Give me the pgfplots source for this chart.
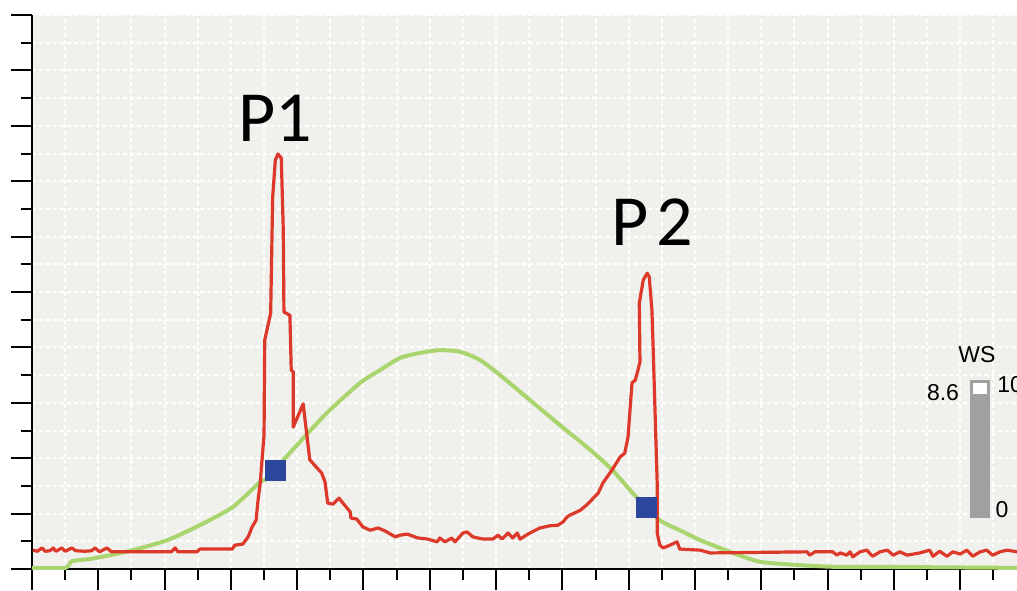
\documentclass[border=0pt]{standalone}
\usepackage{pgfplots}
\pgfplotsset{compat=1.18}
\usepackage{fontspec}
\setmainfont{Liberation Sans}
\newfontfamily\calib{Carlito}
\definecolor{bgc}{RGB}{240,240,236}
\definecolor{redc}{RGB}{220,57,43}
\definecolor{greenc}{RGB}{170,212,110}
\definecolor{bluec}{RGB}{44,72,158}
\definecolor{grayc}{RGB}{160,160,160}
\begin{document}
\begin{tikzpicture}
\begin{axis}[
  at={(0,0)}, anchor=south west,
  scale only axis, width=492.5pt, height=277pt,
  xmin=0, xmax=14.857, ymin=0, ymax=10,
  axis lines=left, axis line style={-, black, line width=1pt},
  axis background/.style={fill=bgc},
  xtick={0,...,14}, ytick={0,...,10},
  minor xtick={0.5,1.5,...,14.5}, minor ytick={0.5,1.5,...,9.5},
  xticklabels={}, yticklabels={},
  tick align=outside,
  major tick length=10.5pt, minor tick length=5.5pt,
  tick style={black, line width=1pt},
  grid=both,
  major grid style={white, line width=1pt, dash pattern=on 2pt off 1.5pt},
  minor grid style={white, line width=1pt, dash pattern=on 2pt off 1.5pt},
  clip=true,
]
\addplot[greenc, line width=2pt, line join=round, smooth, tension=0.4] coordinates {
(0,0.02)(0.50,0.02)(0.60,0.14)(0.87,0.18)(1.18,0.25)(1.52,0.34)(2.04,0.52)(2.53,0.79)
(3.03,1.12)(3.44,1.57)(3.54,1.64)(4.00,2.24)(4.45,2.82)(4.95,3.36)(5.25,3.59)(5.55,3.81)
(5.85,3.90)(6.15,3.95)(6.46,3.92)(6.76,3.77)(7.06,3.50)(7.51,3.05)(7.96,2.60)(8.42,2.15)
(8.75,1.79)(9.13,1.28)(9.47,0.88)(9.77,0.70)(10.08,0.52)(10.53,0.31)(10.98,0.13)(11.58,0.07)
(12.08,0.04)(12.59,0.04)(14.86,0.02)
};
\addplot[redc, line width=1.6pt, line join=round] coordinates {
(0.015,0.34)(0.08,0.32)(0.15,0.38)(0.2,0.32)(0.27,0.33)(0.32,0.38)(0.36,0.32)(0.45,0.38)
(0.5,0.32)(0.6,0.38)(0.66,0.33)(0.8,0.32)(0.9,0.33)(0.95,0.38)(1.02,0.31)(1.13,0.38)
(1.2,0.31)(1.5,0.31)(2.1,0.31)(2.16,0.38)(2.2,0.31)(2.49,0.31)(2.53,0.36)(3.02,0.36)
(3.06,0.43)(3.18,0.45)(3.26,0.58)(3.32,0.76)(3.38,0.88)(3.41,1.25)(3.44,1.52)(3.47,1.97)
(3.50,2.42)(3.51,4.13)(3.60,4.62)(3.63,6.71)(3.67,7.38)(3.71,7.49)(3.76,7.42)(3.79,6.12)
(3.80,4.64)(3.83,4.62)(3.89,4.58)(3.91,3.59)(3.94,3.56)(3.94,2.56)(4.09,2.98)(4.19,1.97)
(4.37,1.73)(4.42,1.57)(4.46,1.19)(4.54,1.17)(4.63,1.28)(4.69,1.19)(4.80,1.03)(4.81,0.92)
(4.90,0.90)(4.99,0.76)(5.10,0.70)(5.22,0.74)(5.32,0.69)(5.48,0.58)(5.55,0.61)(5.66,0.63)
(5.82,0.56)(5.97,0.54)(6.11,0.49)(6.15,0.56)(6.23,0.49)(6.33,0.56)(6.38,0.49)(6.50,0.65)
(6.56,0.67)(6.65,0.58)(6.80,0.54)(6.95,0.54)(7.03,0.61)(7.09,0.54)(7.18,0.65)(7.25,0.56)
(7.32,0.65)(7.36,0.54)(7.51,0.65)(7.66,0.74)(7.81,0.78)(7.93,0.79)(8.01,0.85)(8.07,0.94)
(8.11,0.97)(8.27,1.06)(8.37,1.16)(8.54,1.37)(8.61,1.55)(8.75,1.79)(8.87,2.02)(8.94,2.09)
(8.99,2.38)(9.02,2.87)(9.05,3.36)(9.10,3.41)(9.14,3.59)(9.17,3.74)(9.16,4.80)(9.22,5.22)
(9.28,5.34)(9.31,5.27)(9.35,4.68)(9.37,3.95)(9.40,2.74)(9.43,1.55)(9.43,0.65)(9.47,0.43)
(9.52,0.38)(9.62,0.43)(9.73,0.49)(9.77,0.36)(10.08,0.34)(10.23,0.29)(11.69,0.31)(11.73,0.25)
(11.81,0.31)(12.08,0.31)(12.14,0.25)(12.19,0.29)(12.29,0.25)(12.34,0.31)(12.38,0.22)(12.49,0.31)
(12.59,0.34)(12.68,0.23)(12.79,0.31)(12.90,0.34)(12.99,0.25)(13.09,0.31)(13.20,0.25)(13.39,0.29)
(13.54,0.34)(13.59,0.23)(13.69,0.32)(13.80,0.23)(13.89,0.31)(14.0,0.27)(14.10,0.34)(14.19,0.23)
(14.30,0.31)(14.40,0.34)(14.49,0.25)(14.60,0.31)(14.71,0.34)(14.86,0.31)
};
\addplot[only marks, mark=square*, mark size=5pt, color=bluec, mark options={draw=none, fill=bluec}] coordinates {
(3.665,1.787)(9.261,1.119)
};
\node[font=\calib\fontsize{36}{40}\selectfont] at (axis cs:3.67,8.14) {P1};
\node[font=\calib\fontsize{36}{40}\selectfont] at (axis cs:9.35,6.26) {P\kern4pt2};
\end{axis}
\fill[grayc] (469pt,25.5pt) rectangle (479pt,94.5pt);
\fill[white] (470.5pt,87.5pt) rectangle (477.5pt,93pt);
\node[font=\fontsize{11.5}{13}\selectfont] at (472.5pt,107pt) {WS};
\node[font=\fontsize{11.5}{13}\selectfont] at (455.5pt,88pt) {8.6};
\node[font=\fontsize{11.5}{13}\selectfont, anchor=west, inner sep=0pt] at (482.5pt,92pt) {10};
\node[font=\fontsize{11.5}{13}\selectfont] at (485pt,29.5pt) {0};
\pgfresetboundingbox
\useasboundingbox (-16pt,-10.5pt) rectangle (492.5pt,284.5pt);
\end{tikzpicture}
\end{document}
